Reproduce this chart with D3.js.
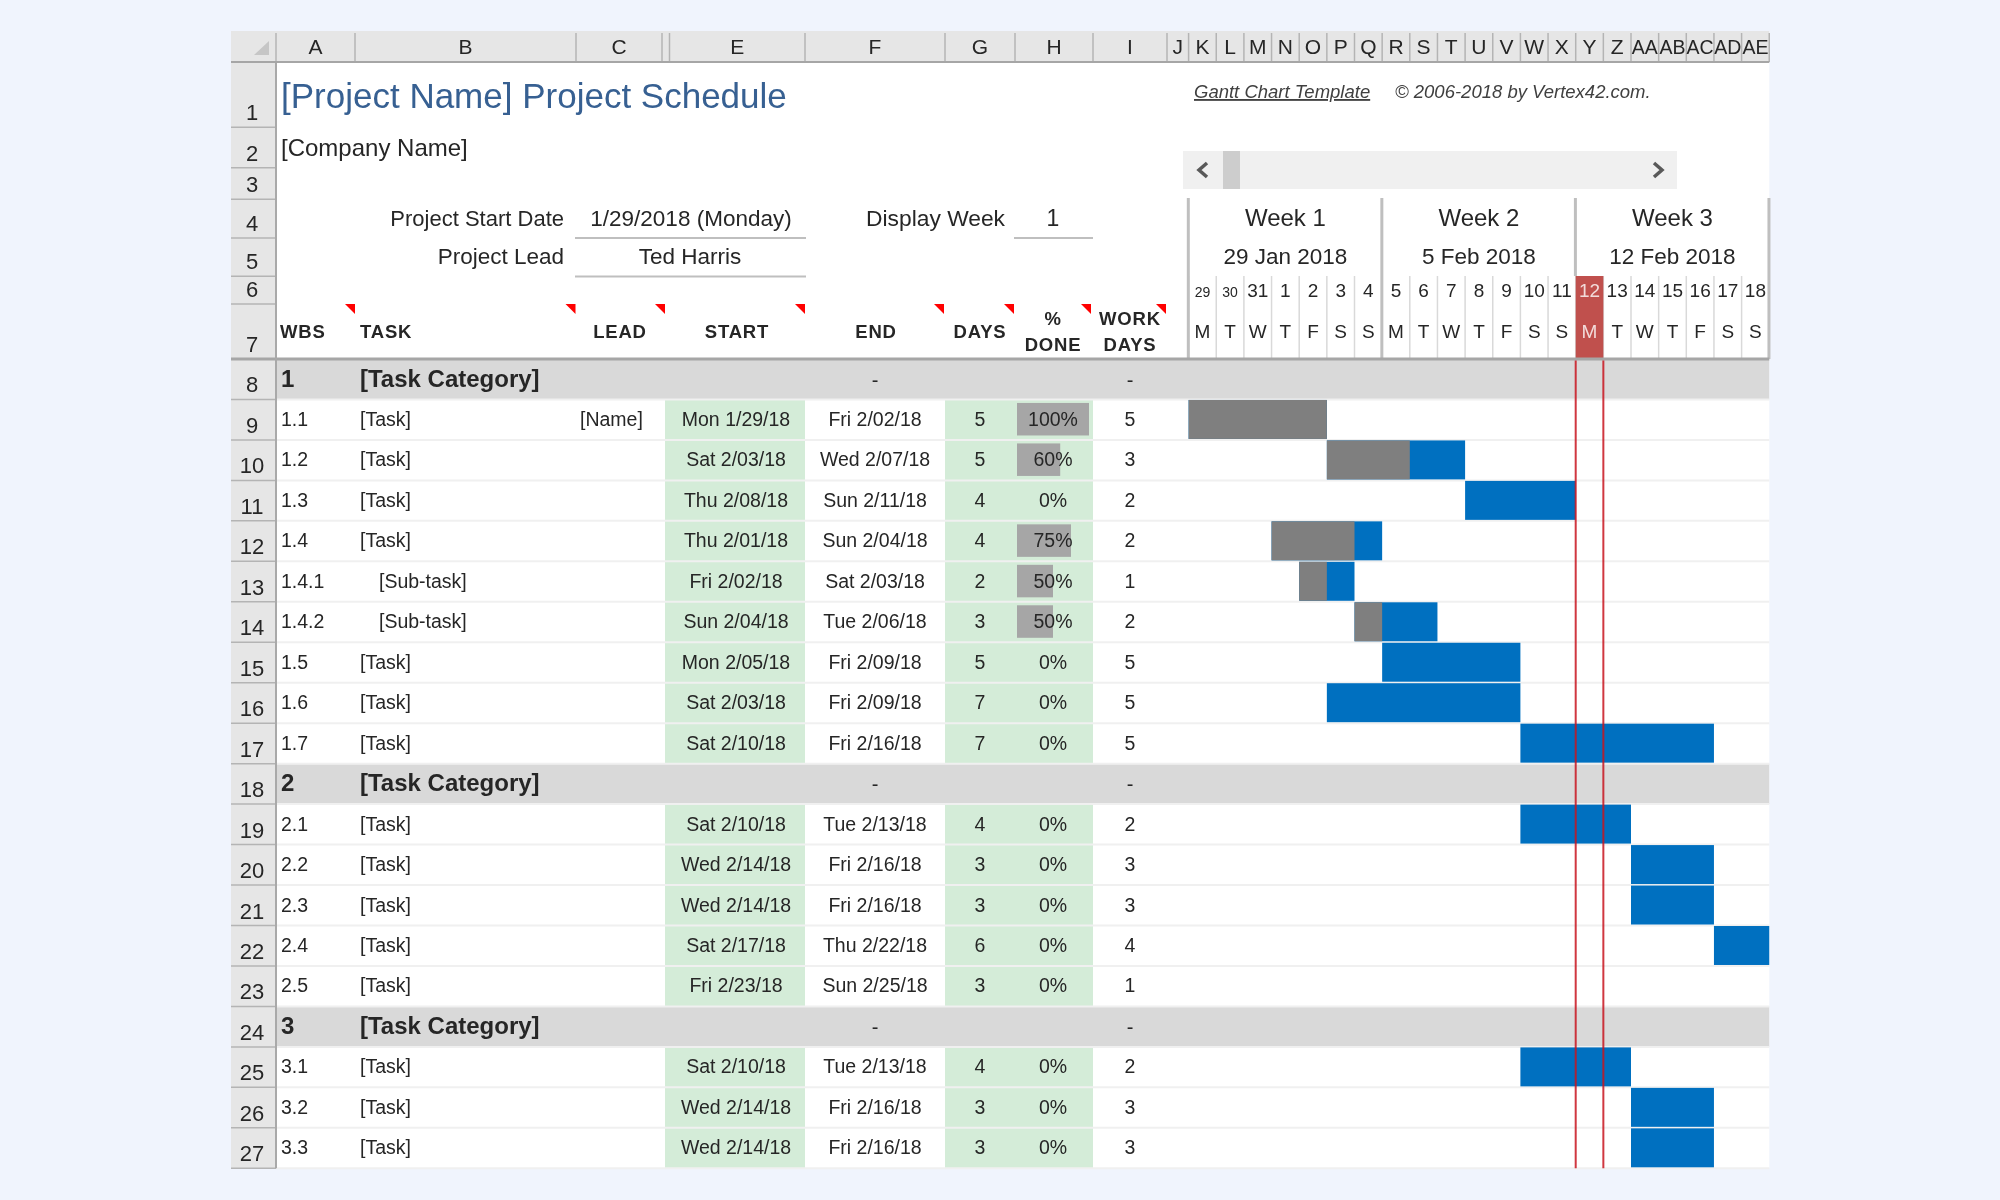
<!DOCTYPE html>
<html>
<head>
<meta charset="utf-8">
<script src="https://cdn.jsdelivr.net/npm/d3@7"></script>
<style>
body { margin: 0; background: #f0f4fd; }
svg { display: block; filter: blur(0.4px); }
text { font-family: "Liberation Sans", Arial, sans-serif; fill: #262626; }
</style>
</head>
<body>
<script>
const colNames = ['A', 'B', 'C', 'D', 'E', 'F', 'G', 'H', 'I', 'J', 'K', 'L', 'M', 'N', 'O', 'P', 'Q', 'R', 'S', 'T', 'U', 'V', 'W', 'X', 'Y', 'Z', 'AA', 'AB', 'AC', 'AD', 'AE']
const rowNumbers = d3.range(1, 28)

const wbs = ['1', '1.1', '1.2', '1.3', '1.4', '1.4.1', '1.4.2', '1.5', '1.6', '1.7', '2', '2.1', '2.2', '2.3', '2.4', '2.5', '3', '3.1', '3.2', '3.3']
const tasks = ['[Task Category]', '[Task]', '[Task]', '[Task]', '[Task]', '[Sub-task]', '[Sub-task]', '[Task]', '[Task]', '[Task]', '[Task Category]', '[Task]', '[Task]', '[Task]', '[Task]', '[Task]', '[Task Category]', '[Task]', '[Task]', '[Task]']
const leads = ['', '[Name]', '', '', '', '', '', '', '', '', '', '', '', '', '', '', '', '', '', '']
const startLabels = ['', 'Mon 1/29/18', 'Sat 2/03/18', 'Thu 2/08/18', 'Thu 2/01/18', 'Fri 2/02/18', 'Sun 2/04/18', 'Mon 2/05/18', 'Sat 2/03/18', 'Sat 2/10/18', '', 'Sat 2/10/18', 'Wed 2/14/18', 'Wed 2/14/18', 'Sat 2/17/18', 'Fri 2/23/18', '', 'Sat 2/10/18', 'Wed 2/14/18', 'Wed 2/14/18']
const endLabels = ['-', 'Fri 2/02/18', 'Wed 2/07/18', 'Sun 2/11/18', 'Sun 2/04/18', 'Sat 2/03/18', 'Tue 2/06/18', 'Fri 2/09/18', 'Fri 2/09/18', 'Fri 2/16/18', '-', 'Tue 2/13/18', 'Fri 2/16/18', 'Fri 2/16/18', 'Thu 2/22/18', 'Sun 2/25/18', '-', 'Tue 2/13/18', 'Fri 2/16/18', 'Fri 2/16/18']
const startDates = [null, '2018-01-29', '2018-02-03', '2018-02-08', '2018-02-01', '2018-02-02', '2018-02-04', '2018-02-05', '2018-02-03', '2018-02-10', null, '2018-02-10', '2018-02-14', '2018-02-14', '2018-02-17', '2018-02-23', null, '2018-02-10', '2018-02-14', '2018-02-14']
const endDates = [null, '2018-02-02', '2018-02-07', '2018-02-11', '2018-02-04', '2018-02-03', '2018-02-06', '2018-02-09', '2018-02-09', '2018-02-16', null, '2018-02-13', '2018-02-16', '2018-02-16', '2018-02-22', '2018-02-25', null, '2018-02-13', '2018-02-16', '2018-02-16']
const days = ['', 5, 5, 4, 4, 2, 3, 5, 7, 7, '', 4, 3, 3, 6, 3, '', 4, 3, 3]
const percentDone = [null, 100, 60, 0, 75, 50, 50, 0, 0, 0, null, 0, 0, 0, 0, 0, null, 0, 0, 0]
const doneDays = [0, 5, 3, 0, 3, 1, 1, 0, 0, 0, 0, 0, 0, 0, 0, 0, 0, 0, 0, 0]
const workDays = ['-', 5, 3, 2, 2, 1, 2, 5, 5, 5, '-', 2, 3, 3, 4, 1, '-', 2, 3, 3]

const weekLabels = ['Week 1', 'Week 2', 'Week 3']
const weekDates = ['29 Jan 2018', '5 Feb 2018', '12 Feb 2018']
const dayNumbers = [29, 30, 31, 1, 2, 3, 4, 5, 6, 7, 8, 9, 10, 11, 12, 13, 14, 15, 16, 17, 18]
const dayLetters = ['M', 'T', 'W', 'T', 'F', 'S', 'S', 'M', 'T', 'W', 'T', 'F', 'S', 'S', 'M', 'T', 'W', 'T', 'F', 'S', 'S']
const todayIndex = 14

const ganttLeft = 1188.6
const dayWidth = 27.65
const ganttRight = ganttLeft + dayWidth * dayNumbers.length
const colEdges = [276, 355, 576, 662, 669.5, 805, 945, 1015, 1093, 1167]
dayNumbers.forEach((d, i) => colEdges.push(ganttLeft + i * dayWidth))
colEdges.push(ganttRight)

const sheetLeft = 231
const headBottom = 62
const tableTop = 359
const tableBottom = 1168.3
const rowEdges = [headBottom, 127.3, 167.7, 199.3, 238, 276.3, 304, tableTop]
const line_color = '#f0f0f0'
const head_fill = '#e6e6e6'
const head_line = '#b4b4b4'

const parse = d3.utcParse('%Y-%m-%d')
const x = d3.scaleUtc()
    .domain([parse('2018-01-29'), parse('2018-02-19')])
    .range([ganttLeft, ganttRight])
    .clamp(true)
const dayBand = d3.scaleBand()
    .domain(d3.range(dayNumbers.length))
    .range([ganttLeft, ganttRight])
const y = d3.scaleLinear()
    .domain([0, wbs.length])
    .range([tableTop, tableBottom])
const pctWidth = d3.scaleLinear()
    .domain([0, 100])
    .range([0, 72])

wbs.forEach((d, i) => rowEdges.push(y(i + 1)))

const svg = d3.select('body').append('svg')
    .attr('width', 2000)
    .attr('height', 1200)

function label(parent, txt, px, py, size, opts = {}) {
    return parent.append('text')
        .attr('x', px)
        .attr('y', py)
        .attr('font-size', size)
        .attr('text-anchor', opts.anchor || 'start')
        .attr('font-weight', opts.weight || null)
        .attr('font-style', opts.style || null)
        .attr('letter-spacing', opts.spacing || null)
        .attr('text-decoration', opts.decoration || null)
        .style('fill', opts.fill || null)
        .text(txt)
}

// sheet
svg.append('rect')
    .attr('x', sheetLeft)
    .attr('y', 31)
    .attr('width', ganttRight - sheetLeft)
    .attr('height', tableBottom - 31)
    .attr('fill', 'white')

// column header
svg.append('rect')
    .attr('x', sheetLeft)
    .attr('y', 31)
    .attr('width', ganttRight - sheetLeft)
    .attr('height', headBottom - 31)
    .attr('fill', head_fill)
svg.append('path')
    .attr('d', d3.line()([[269, 41], [269, 55], [254, 55]]))
    .attr('fill', '#c6c6c6')

const colHead = svg.append('g')
colHead.selectAll('line')
    .data(colEdges)
    .join('line')
    .attr('x1', d => d)
    .attr('x2', d => d)
    .attr('y1', 33)
    .attr('y2', headBottom)
    .attr('stroke', head_line)
    .attr('stroke-width', 1.5)
colHead.selectAll('text')
    .data(colNames.filter(d => d != 'D'))
    .join('text')
    .attr('x', d => {
        let i = colNames.indexOf(d)
        return (colEdges[i] + colEdges[i + 1]) / 2
    })
    .attr('y', 54)
    .attr('font-size', d => d.length > 1 ? 19.5 : 21)
    .attr('text-anchor', 'middle')
    .text(d => d)

// row header
svg.append('rect')
    .attr('x', sheetLeft)
    .attr('y', headBottom)
    .attr('width', 276 - sheetLeft)
    .attr('height', tableBottom - headBottom)
    .attr('fill', head_fill)
const rowHead = svg.append('g')
rowHead.selectAll('line')
    .data(rowNumbers)
    .join('line')
    .attr('x1', sheetLeft)
    .attr('x2', 276)
    .attr('y1', d => rowEdges[d])
    .attr('y2', d => rowEdges[d])
    .attr('stroke', head_line)
    .attr('stroke-width', 1.5)
rowHead.selectAll('text')
    .data(rowNumbers)
    .join('text')
    .attr('x', 252)
    .attr('y', d => rowEdges[d] - 7)
    .attr('font-size', 22)
    .attr('text-anchor', 'middle')
    .text(d => d)

// table rows
const rows = d3.range(wbs.length)
const isCategory = i => wbs[i].indexOf('.') < 0
const plainRows = rows.filter(i => !isCategory(i))
const categoryRows = rows.filter(isCategory)

svg.append('g').selectAll('rect')
    .data(categoryRows)
    .join('rect')
    .attr('x', 276)
    .attr('y', d => y(d))
    .attr('width', ganttRight - 276)
    .attr('height', y(1) - y(0))
    .attr('fill', '#d9d9d9')

const greens = [[665, 805], [945, 1093]]
greens.forEach(span => {
    svg.append('g').selectAll('rect')
        .data(plainRows)
        .join('rect')
        .attr('x', span[0])
        .attr('y', d => y(d))
        .attr('width', span[1] - span[0])
        .attr('height', y(1) - y(0))
        .attr('fill', '#d4ecd8')
})

// % done bars
svg.append('g').selectAll('rect')
    .data(plainRows)
    .join('rect')
    .attr('x', 1017)
    .attr('y', d => y(d) + 3.5)
    .attr('width', d => pctWidth(percentDone[d]))
    .attr('height', 32.5)
    .attr('fill', '#a6a6a6')

// row lines
svg.append('g').selectAll('line')
    .data(rows)
    .join('line')
    .attr('x1', 276)
    .attr('x2', ganttRight)
    .attr('y1', d => y(d + 1))
    .attr('y2', d => y(d + 1))
    .attr('stroke', line_color)
    .attr('stroke-width', 2)

// gantt bars
const gantt = svg.append('g')
gantt.selectAll('rect.todo')
    .data(plainRows)
    .join('rect')
    .attr('class', 'todo')
    .attr('x', d => x(parse(startDates[d])))
    .attr('y', d => y(d) + 0.5)
    .attr('width', d => x(d3.utcDay.offset(parse(endDates[d]), 1)) - x(parse(startDates[d])))
    .attr('height', y(1) - y(0) - 1.5)
    .attr('fill', '#0070c0')
gantt.selectAll('rect.done')
    .data(plainRows)
    .join('rect')
    .attr('class', 'done')
    .attr('x', d => x(parse(startDates[d])))
    .attr('y', d => y(d) + 0.5)
    .attr('width', d => x(d3.utcDay.offset(parse(startDates[d]), doneDays[d])) - x(parse(startDates[d])))
    .attr('height', y(1) - y(0) - 1.5)
    .attr('fill', '#7f7f7f')

// table text
const rowText = svg.append('g')
function column(values, px, anchor) {
    rowText.append('g').selectAll('text')
        .data(plainRows)
        .join('text')
        .attr('x', d => typeof px == 'function' ? px(d) : px)
        .attr('y', d => y(d) + 26.5)
        .attr('font-size', 19.5)
        .attr('text-anchor', anchor)
        .text(d => values[d])
}
column(wbs, 281, 'start')
column(tasks, d => tasks[d] == '[Sub-task]' ? 379 : 360, 'start')
column(leads, 580, 'start')
column(startLabels, 736, 'middle')
column(endLabels, 875, 'middle')
column(days, 980, 'middle')
column(percentDone.map(d => d + '%'), 1053, 'middle')
column(workDays, 1130, 'middle')

categoryRows.forEach(i => {
    label(rowText, wbs[i], 281, y(i) + 27.7, 24, {weight: 'bold'})
    label(rowText, tasks[i], 360, y(i) + 27.7, 24, {weight: 'bold'})
    label(rowText, endLabels[i], 875, y(i) + 27.7, 20, {anchor: 'middle'})
    label(rowText, workDays[i], 1130, y(i) + 27.7, 20, {anchor: 'middle'})
})

// title block
label(svg, '[Project Name] Project Schedule', 281, 108, 35, {fill: '#376092'})
label(svg, '[Company Name]', 281, 156, 24)
label(svg, 'Project Start Date', 564, 226, 22, {anchor: 'end'})
label(svg, '1/29/2018 (Monday)', 691, 226, 22.5, {anchor: 'middle'})
label(svg, 'Project Lead', 564, 264, 22.5, {anchor: 'end'})
label(svg, 'Ted Harris', 690, 264, 22.5, {anchor: 'middle'})
label(svg, 'Display Week', 1005, 226, 22.8, {anchor: 'end'})
label(svg, '1', 1053, 226, 23, {anchor: 'middle'})

const underlines = [[575, 806, 238], [575, 806, 276.5], [1014, 1093, 238]]
svg.append('g').selectAll('line')
    .data(underlines)
    .join('line')
    .attr('x1', d => d[0])
    .attr('x2', d => d[1])
    .attr('y1', d => d[2])
    .attr('y2', d => d[2])
    .attr('stroke', '#bfbfbf')
    .attr('stroke-width', 2)

label(svg, 'Gantt Chart Template', 1194, 98, 18.5, {style: 'italic', decoration: 'underline', fill: '#404040'})
label(svg, '© 2006-2018 by Vertex42.com.', 1395, 98, 18.5, {style: 'italic', fill: '#404040'})

// scroll bar
svg.append('rect').attr('x', 1183).attr('y', 151).attr('width', 494).attr('height', 38).attr('fill', '#f0f0f0')
svg.append('rect').attr('x', 1223).attr('y', 151).attr('width', 17).attr('height', 38).attr('fill', '#cdcdcd')
const chevrons = [[[1207, 163], [1199, 170], [1207, 177]], [[1654, 163], [1662, 170], [1654, 177]]]
svg.append('g').selectAll('path')
    .data(chevrons)
    .join('path')
    .attr('d', d3.line())
    .attr('fill', 'none')
    .attr('stroke', '#595959')
    .attr('stroke-width', 3.5)

// column headings
const headCols = [
    ['WBS', 280, 338, 'start'], ['TASK', 360, 338, 'start'], ['LEAD', 620, 338, 'middle'],
    ['START', 737, 338, 'middle'], ['END', 876, 338, 'middle'], ['DAYS', 980, 338, 'middle'],
    ['%', 1053, 325, 'middle'], ['DONE', 1053, 351, 'middle'], ['WORK', 1130, 325, 'middle'], ['DAYS', 1130, 351, 'middle']
]
headCols.forEach(h => label(svg, h[0], h[1], h[2], 18.5, {weight: 'bold', anchor: h[3], spacing: 0.8}))

const notes = [355, 575.5, 665, 805, 944, 1014, 1091, 1166]
svg.append('g').selectAll('path')
    .data(notes)
    .join('path')
    .attr('d', d => d3.line()([[d - 10, 304], [d, 304], [d, 314]]))
    .attr('fill', '#ff0000')

// timeline header
const timeline = svg.append('g')
timeline.selectAll('line.day')
    .data(d3.range(dayNumbers.length + 1))
    .join('line')
    .attr('class', 'day')
    .attr('x1', d => ganttLeft + d * dayWidth)
    .attr('x2', d => ganttLeft + d * dayWidth)
    .attr('y1', 276)
    .attr('y2', tableTop)
    .attr('stroke', '#d9d9d9')
    .attr('stroke-width', 1.5)

timeline.append('rect')
    .attr('x', dayBand(todayIndex))
    .attr('y', 276)
    .attr('width', dayBand.bandwidth())
    .attr('height', tableTop - 276)
    .attr('fill', '#c0504d')

timeline.selectAll('line.week')
    .data(d3.range(weekLabels.length + 1))
    .join('line')
    .attr('class', 'week')
    .attr('x1', d => ganttLeft - 0.3 + d * 7 * dayWidth)
    .attr('x2', d => ganttLeft - 0.3 + d * 7 * dayWidth)
    .attr('y1', 198)
    .attr('y2', d => d == 2 ? 276 : tableTop)
    .attr('stroke', '#bfbfbf')
    .attr('stroke-width', 3)

weekLabels.forEach((w, i) => {
    let cx = ganttLeft + (i + .5) * 7 * dayWidth
    label(timeline, w, cx, 226, 24, {anchor: 'middle'})
    label(timeline, weekDates[i], cx, 264, 22.5, {anchor: 'middle'})
})

// day ticks, one axis per header row
function dayAxis(labels, py) {
    let g = timeline.append('g')
        .attr('transform', `translate(0,${py})`)
        .call(d3.axisTop(dayBand).tickSize(0).tickPadding(0).tickFormat(i => labels[i]))
    g.select('.domain').remove()
    g.selectAll('text')
        .attr('font-size', (d, i) => labels == dayNumbers && i < 2 ? 14 : 19)
        .attr('font-family', '"Liberation Sans", Arial, sans-serif')
        .attr('dy', 0)
        .style('fill', (d, i) => i == todayIndex ? '#f2dcdb' : null)
}
dayAxis(dayNumbers, 297)
dayAxis(dayLetters, 338)

// header rule and today lines
svg.append('line')
    .attr('x1', sheetLeft)
    .attr('x2', ganttRight)
    .attr('y1', tableTop)
    .attr('y2', tableTop)
    .attr('stroke', '#a6a6a6')
    .attr('stroke-width', 3)
svg.append('line')
    .attr('x1', 276)
    .attr('x2', 276)
    .attr('y1', headBottom)
    .attr('y2', tableBottom)
    .attr('stroke', '#a9a9a9')
    .attr('stroke-width', 2)
svg.append('line')
    .attr('x1', sheetLeft)
    .attr('x2', ganttRight)
    .attr('y1', headBottom)
    .attr('y2', headBottom)
    .attr('stroke', '#a6a6a6')
    .attr('stroke-width', 2)

svg.append('g').selectAll('line')
    .data([todayIndex, todayIndex + 1])
    .join('line')
    .attr('x1', d => ganttLeft + d * dayWidth)
    .attr('x2', d => ganttLeft + d * dayWidth)
    .attr('y1', tableTop + 1.5)
    .attr('y2', tableBottom)
    .attr('stroke', '#c8141e')
    .attr('stroke-opacity', .85)
    .attr('stroke-width', 2)
</script>
</body>
</html>
